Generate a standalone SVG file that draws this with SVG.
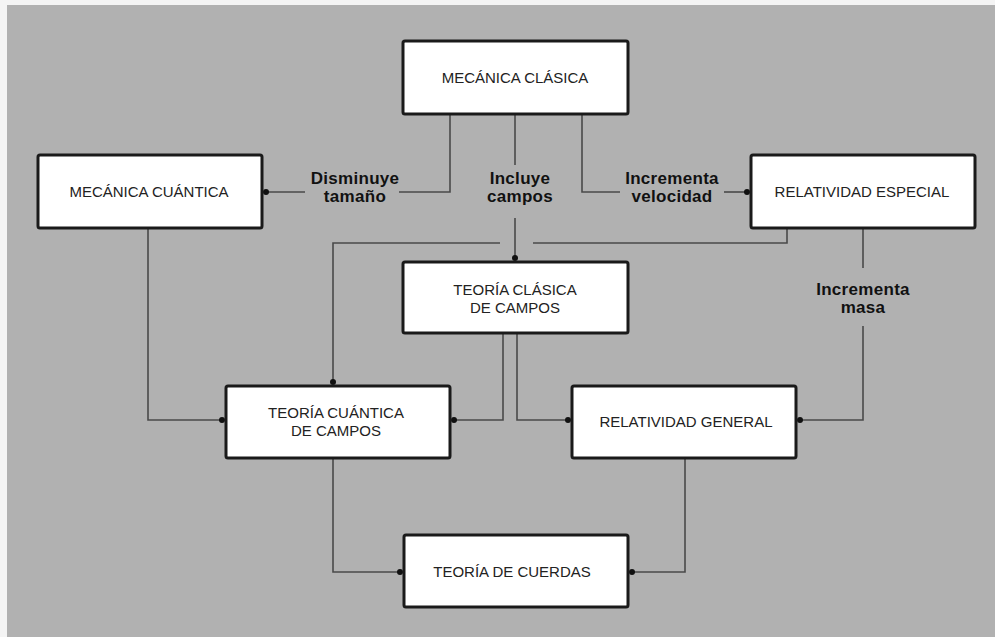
<svg xmlns="http://www.w3.org/2000/svg" width="995" height="637" viewBox="0 0 995 637">
<defs>
<style>
.bg{fill:#b1b1b1}
.box{fill:#ffffff;stroke:#1a1a1a;stroke-width:3}
.bt{font-family:"Liberation Sans",Arial,sans-serif;font-size:15px;fill:#222;text-anchor:middle}
.lbl{font-family:"Liberation Sans",Arial,sans-serif;font-size:17px;font-weight:bold;fill:#111;text-anchor:middle;letter-spacing:0.3px}
.ln{fill:none;stroke:#4a4a4a;stroke-width:1.6}
</style>
<marker id="dot" viewBox="0 0 8 8" refX="6" refY="4" markerWidth="8" markerHeight="8" markerUnits="userSpaceOnUse" orient="auto">
<circle cx="4" cy="4" r="3" fill="#111"/>
</marker>
</defs>
<rect x="0" y="0" width="995" height="637" fill="#f4f4f4"/>
<rect class="bg" x="7" y="5" width="988" height="632"/>

<g id="connectors">
<path class="ln" d="M450,114 V192 H399"/>
<path class="ln" d="M305,192 H264" marker-end="url(#dot)"/>
<path class="ln" d="M582,114 V192 H620"/>
<path class="ln" d="M724,192 H749" marker-end="url(#dot)"/>
<path class="ln" d="M515,114 V165"/>
<path class="ln" d="M515,218 V260" marker-end="url(#dot)"/>
<path class="ln" d="M787,228 V243 H533"/>
<path class="ln" d="M500,243 H333 V384" marker-end="url(#dot)"/>
<path class="ln" d="M863,228 V268"/>
<path class="ln" d="M863,326 V420 H798" marker-end="url(#dot)"/>
<path class="ln" d="M148,228 V420 H224" marker-end="url(#dot)"/>
<path class="ln" d="M503,333 V420 H452" marker-end="url(#dot)"/>
<path class="ln" d="M517,333 V420 H570" marker-end="url(#dot)"/>
<path class="ln" d="M333,458 V572 H402" marker-end="url(#dot)"/>
<path class="ln" d="M685,458 V572 H630" marker-end="url(#dot)"/>
</g>

<g id="labels">
<text class="lbl" x="355" y="184">Disminuye</text>
<text class="lbl" x="355" y="202">tamaño</text>
<text class="lbl" x="520" y="184">Incluye</text>
<text class="lbl" x="520" y="202">campos</text>
<text class="lbl" x="672" y="184">Incrementa</text>
<text class="lbl" x="672" y="202">velocidad</text>
<text class="lbl" x="863" y="295">Incrementa</text>
<text class="lbl" x="863" y="313">masa</text>
</g>

<g id="mecanica-clasica">
<rect class="box" x="403" y="41" width="225" height="73" rx="2"/>
<text class="bt" x="515" y="83">MECÁNICA CLÁSICA</text>
</g>
<g id="mecanica-cuantica">
<rect class="box" x="38" y="155" width="224" height="73" rx="2"/>
<text class="bt" x="149" y="197">MECÁNICA CUÁNTICA</text>
</g>
<g id="relatividad-especial">
<rect class="box" x="751" y="155" width="224" height="73" rx="2"/>
<text class="bt" x="862" y="197">RELATIVIDAD ESPECIAL</text>
</g>
<g id="teoria-clasica-campos">
<rect class="box" x="403" y="262" width="225" height="71" rx="2"/>
<text class="bt" x="515" y="295">TEORÍA CLÁSICA</text>
<text class="bt" x="515" y="313">DE CAMPOS</text>
</g>
<g id="teoria-cuantica-campos">
<rect class="box" x="226" y="386" width="224" height="72" rx="2"/>
<text class="bt" x="336" y="418">TEORÍA CUÁNTICA</text>
<text class="bt" x="336" y="436">DE CAMPOS</text>
</g>
<g id="relatividad-general">
<rect class="box" x="572" y="386" width="224" height="72" rx="2"/>
<text class="bt" x="686" y="427">RELATIVIDAD GENERAL</text>
</g>
<g id="teoria-cuerdas">
<rect class="box" x="404" y="535" width="224" height="72" rx="2"/>
<text class="bt" x="512" y="577">TEORÍA DE CUERDAS</text>
</g>
</svg>
